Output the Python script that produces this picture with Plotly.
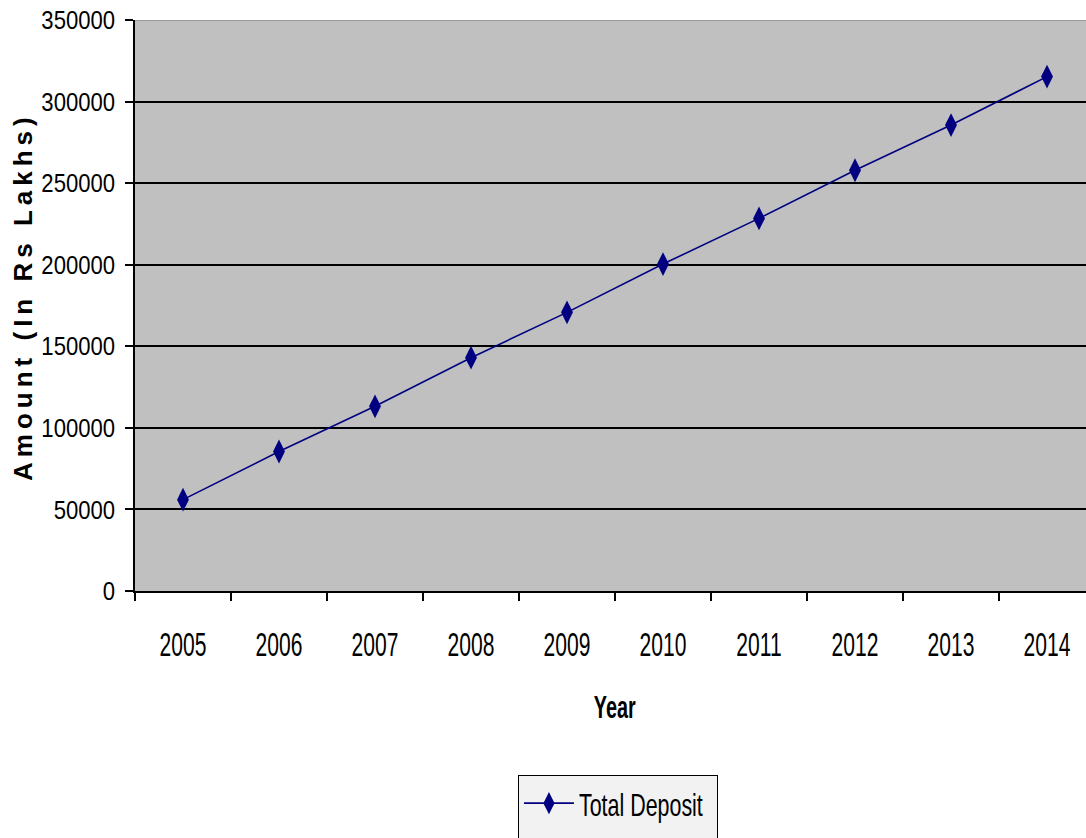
import plotly.graph_objects as go

# Total deposits by year (Rs lakhs)
years = ["2005", "2006", "2007", "2008", "2009", "2010", "2011", "2012", "2013", "2014"]
total_deposit = [56000, 85500, 113200, 143000, 170800, 200400, 228400, 257900, 285600, 315300]
y_ticks = [0, 50000, 100000, 150000, 200000, 250000, 300000, 350000]

SANS = "Liberation Sans, Arial, sans-serif"

fig = go.Figure()
fig.add_trace(go.Scatter(
    x=years,
    y=total_deposit,
    mode="lines+markers",
    name="Total Deposit",
    line=dict(color="#000080", width=1.6),
    marker=dict(symbol="diamond-tall", size=17, color="#000080"),
))

# thin grey frame edge along the top of the plot area
fig.add_shape(type="line", xref="paper", yref="y", x0=0, x1=1, y0=350000, y1=350000,
              line=dict(color="#8c8c8c", width=1.5))

fig.add_annotation(text="<b>Year</b>", xref="paper", yref="paper",
                   x=0.5047, y=-0.2032, xanchor="center", yanchor="middle",
                   showarrow=False, font=dict(family=SANS, size=32, color="black"))
fig.add_annotation(text="<b>Amount (In Rs Lakhs)</b>", xref="paper", yref="paper",
                   x=0, xshift=-112, y=0.515, xanchor="center", yanchor="middle",
                   textangle=-90, showarrow=False,
                   font=dict(family=SANS, size=26, color="black"))

fig.update_layout(
    width=1086,
    height=838,
    margin=dict(l=135, r=0, t=20, b=247),
    paper_bgcolor="white",
    plot_bgcolor="#c0c0c0",
    showlegend=True,
    legend=dict(
        x=0.4027, y=-0.322, xanchor="left", yanchor="top",
        bgcolor="#f2f2f2", bordercolor="black", borderwidth=1,
        itemwidth=50,
        font=dict(family=SANS, size=32, color="black"),
    ),
    xaxis=dict(
        type="category",
        range=[-0.5, 9.406],
        tickson="boundaries",
        ticks="outside", ticklen=8, tickcolor="black", tickwidth=1.5,
        showline=True, linecolor="black", linewidth=1.5,
        showgrid=False, automargin=False,
        ticklabelstandoff=22,
        tickfont=dict(family=SANS, size=34, color="black"),
    ),
    yaxis=dict(
        range=[0, 350000],
        tickvals=y_ticks,
        ticktext=[str(v) for v in y_ticks],
        ticks="outside", ticklen=8, tickcolor="black", tickwidth=1.5,
        showline=True, linecolor="black", linewidth=1.5,
        showgrid=True, gridcolor="black", gridwidth=1.6,
        zeroline=False, automargin=False,
        ticklabelstandoff=5,
        tickfont=dict(family=SANS, size=26, color="black"),
    ),
)

# narrow the label text horizontally about its anchor point, and space out the y title
post_js = """
function squeeze(sel, s) {
  document.querySelectorAll(sel).forEach(function (t) {
    var x = parseFloat(t.getAttribute('x') || '0');
    var tr = t.getAttribute('transform') || '';
    t.setAttribute('transform', tr + ' translate(' + x + ',0) scale(' + s + ',1) translate(' + (-x) + ',0)');
  });
}
squeeze('.xtick text', 0.62);
squeeze('.ytick text', 0.85);
squeeze('.legendtext', 0.67);
document.querySelectorAll('.annotation-text').forEach(function (t) {
  if (t.textContent.indexOf('Year') === 0) {
    var x = parseFloat(t.getAttribute('x') || '0');
    var tr = t.getAttribute('transform') || '';
    t.setAttribute('transform', tr + ' translate(' + x + ',0) scale(0.62,1) translate(' + (-x) + ',0)');
  } else {
    t.style.letterSpacing = '5px';
  }
});
document.querySelectorAll('.legend rect.bg').forEach(function (r) {
  r.setAttribute('width', '199');
  r.setAttribute('height', '90');
});
"""

fig.write_html("out.html", post_script=post_js)
